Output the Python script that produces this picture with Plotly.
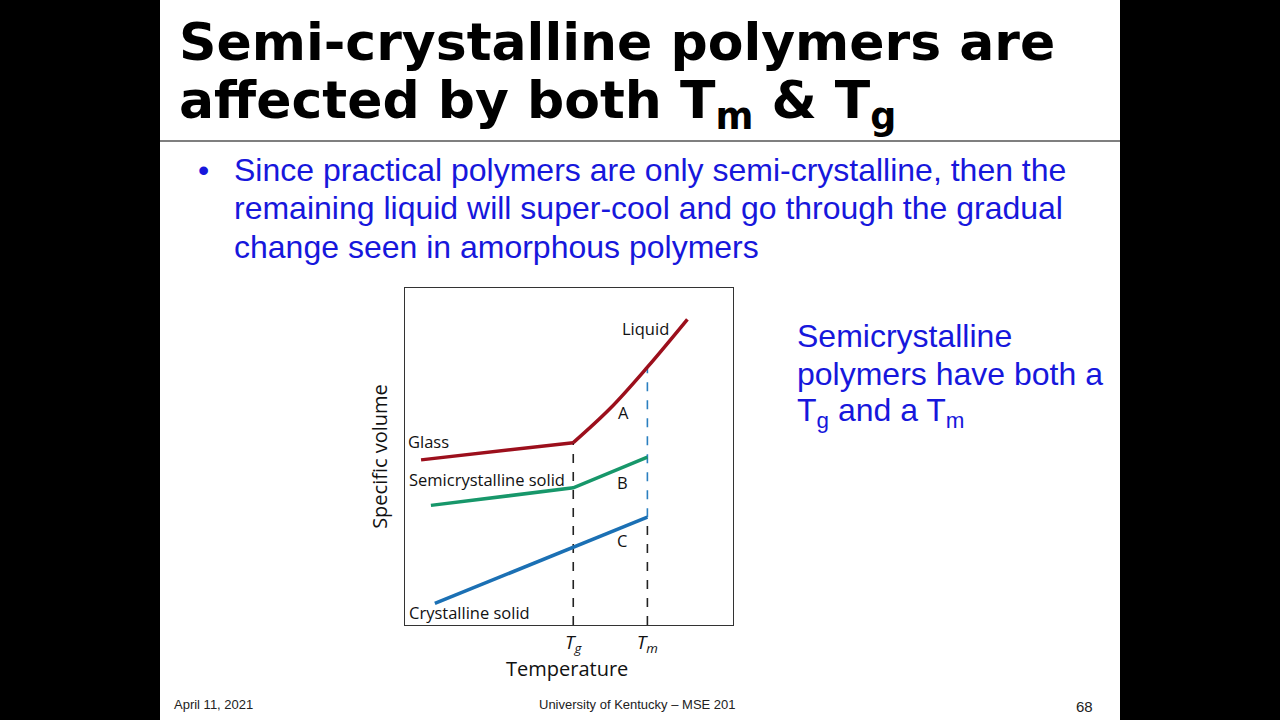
import plotly.graph_objects as go

# specific volume vs temperature (arbitrary units, axis 0..100)
t_g = 51.3
t_m = 73.9

glass_t = [4.9, t_g]
glass_v = [49.0, 54.1]
liquid_t = [t_g, 62.6, t_m, 86.1]
liquid_v = [54.1, 64.3, 76.5, 90.7]
semi_t = [7.9, t_g, t_m]
semi_v = [35.5, 40.7, 49.8]
cryst_t = [9.1, t_m]
cryst_v = [6.4, 32.0]

tick_vals = [t_g, t_m]
tick_text = ['<i>T<sub>g</sub></i>', '<i>T<sub>m</sub></i>']

red = '#9c0f1c'
green = '#17976a'
blue = '#1b70b4'
txt_blue = '#1717dc'

fig = go.Figure()
# dashed guides
fig.add_trace(go.Scatter(x=[t_g, t_g], y=[0, glass_v[1]], mode='lines',
                         line=dict(color='#222', width=1.6, dash='dash'),
                         hoverinfo='skip'))
fig.add_trace(go.Scatter(x=[t_m, t_m], y=[0, cryst_v[1]], mode='lines',
                         line=dict(color='#222', width=1.6, dash='dash'),
                         hoverinfo='skip'))
fig.add_trace(go.Scatter(x=[t_m, t_m], y=[cryst_v[1], liquid_v[2]], mode='lines',
                         line=dict(color='#2a7fc0', width=1.6, dash='dash'),
                         hoverinfo='skip'))
# curves
fig.add_trace(go.Scatter(x=glass_t, y=glass_v, mode='lines',
                         line=dict(color=red, width=3.5)))
fig.add_trace(go.Scatter(x=liquid_t, y=liquid_v, mode='lines',
                         line=dict(color=red, width=3.5, shape='spline')))
fig.add_trace(go.Scatter(x=semi_t, y=semi_v, mode='lines',
                         line=dict(color=green, width=3.5)))
fig.add_trace(go.Scatter(x=cryst_t, y=cryst_v, mode='lines',
                         line=dict(color=blue, width=3.5)))

chart_font = dict(family='Open Sans', size=16.5, color='#111')
labels = [
    ('Liquid', 73.3, 88.0),
    ('Glass', 7.3, 54.5),
    ('Semicrystalline solid', 25.0, 43.2),
    ('Crystalline solid', 19.7, 3.8),
    ('A', 66.5, 63.0),
    ('B', 66.2, 42.2),
    ('C', 66.2, 25.0),
]
for text, lx, ly in labels:
    fig.add_annotation(x=lx, y=ly, text=text, showarrow=False,
                       font=chart_font, xref='x', yref='y')

axis_font = dict(family='Open Sans', size=20, color='#111')
fig.update_xaxes(range=[0, 100], domain=[405/1280, 733/1280],
                 showgrid=False, zeroline=False,
                 showline=True, mirror=True, linecolor='#333', linewidth=1.3,
                 tickvals=tick_vals, ticktext=tick_text, ticks='',
                 tickfont=dict(family='Open Sans', size=19, color='#111'))
fig.update_yaxes(range=[0, 100], domain=[1 - 625/720, 1 - 288/720],
                 showgrid=False, zeroline=False,
                 showline=True, mirror=True, linecolor='#333', linewidth=1.3,
                 showticklabels=False, ticks='',
                 title=dict(text='Specific volume', standoff=10, font=axis_font))
fig.add_annotation(xref='paper', yref='paper', x=567/1280, y=1 - 668/720,
                   xanchor='center', yanchor='middle', showarrow=False,
                   text='Temperature', font=axis_font)

# slide background and rule
fig.add_shape(type='rect', xref='paper', yref='paper', x0=160/1280, x1=1120/1280,
              y0=0, y1=1, fillcolor='white', line_width=0, layer='below')
fig.add_shape(type='line', xref='paper', yref='paper', x0=160/1280, x1=1120/1280,
              y0=1 - 141/720, y1=1 - 141/720, line=dict(color='#555', width=1.5))

title_font = dict(family='DejaVu Sans', size=52, color='black')
fig.add_annotation(xref='paper', yref='paper', x=177/1280, y=1 - 42/720,
                   xanchor='left', yanchor='middle', showarrow=False,
                   text='<b>Semi-crystalline polymers are</b>', font=title_font)
fig.add_annotation(xref='paper', yref='paper', x=177/1280, y=1 - 104/720,
                   xanchor='left', yanchor='middle', showarrow=False,
                   text='<b>affected by both T<sub>m</sub> &amp; T<sub>g</sub></b>',
                   font=title_font)

body_font = dict(family='Liberation Sans', size=32, color=txt_blue)
fig.add_annotation(xref='paper', yref='paper', x=196/1280, y=1 - 170/720,
                   xanchor='left', yanchor='middle', showarrow=False,
                   text='•', font=body_font)
bullet_lines = ['Since practical polymers are only semi-crystalline, then the',
                'remaining liquid will super-cool and go through the gradual',
                'change seen in amorphous polymers']
for i, line in enumerate(bullet_lines):
    fig.add_annotation(xref='paper', yref='paper', x=232/1280,
                       y=1 - (170 + 38.5*i)/720,
                       xanchor='left', yanchor='middle', showarrow=False,
                       text=line, font=body_font)

side_lines = ['Semicrystalline', 'polymers have both a',
              'T<sub>g</sub> and a T<sub>m</sub>']
for i, line in enumerate(side_lines):
    fig.add_annotation(xref='paper', yref='paper', x=795/1280,
                       y=1 - (336 + 38*i)/720,
                       xanchor='left', yanchor='middle', showarrow=False,
                       text=line, font=body_font)

foot_font = dict(family='Liberation Sans', size=13, color='#222')
fig.add_annotation(xref='paper', yref='paper', x=172/1280, y=1 - 704/720,
                   xanchor='left', yanchor='middle', showarrow=False,
                   text='April 11, 2021', font=foot_font)
fig.add_annotation(xref='paper', yref='paper', x=637/1280, y=1 - 704/720,
                   xanchor='center', yanchor='middle', showarrow=False,
                   text='University of Kentucky – MSE 201', font=foot_font)
fig.add_annotation(xref='paper', yref='paper', x=1084/1280, y=1 - 706/720,
                   xanchor='center', yanchor='middle', showarrow=False,
                   text='68', font=dict(family='Liberation Sans', size=15, color='#222'))

fig.update_layout(width=1280, height=720, margin=dict(l=0, r=0, t=0, b=0),
                  paper_bgcolor='black', plot_bgcolor='white',
                  showlegend=False)

fig.write_html('out.html', config={'displayModeBar': False},
               post_script="document.body.style.margin='0';")
